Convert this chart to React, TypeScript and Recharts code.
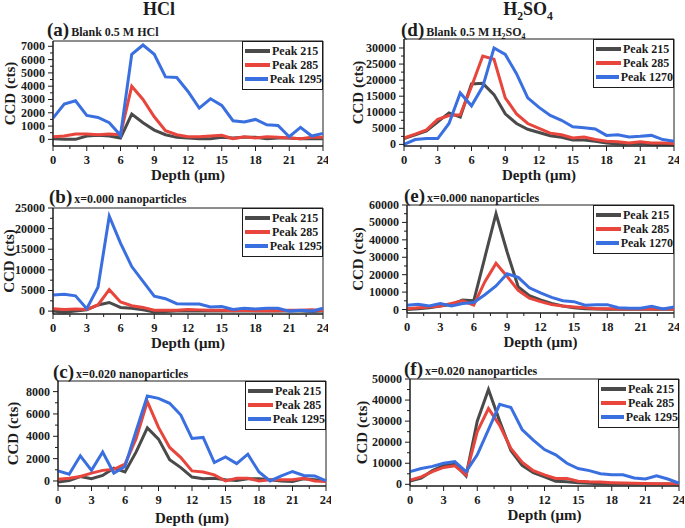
import React from 'react';
import { Legend, Line, LineChart, ReferenceArea, XAxis, YAxis } from 'recharts';

const FONT = '"Liberation Serif", "Times New Roman", serif';
const INK = '#1c1c1c';
const GREY = '#4a4a4a';
const RED = '#e8453c';
const BLUE = '#3a6fe0';

// depth in µm, one reading per micron
const depth = [0, 1, 2, 3, 4, 5, 6, 7, 8, 9, 10, 11, 12, 13, 14, 15, 16, 17, 18, 19, 20, 21, 22, 23, 24];
const depthTicks = [0, 1.5, 3, 4.5, 6, 7.5, 9, 10.5, 12, 13.5, 15, 16.5, 18, 19.5, 21, 22.5, 24];

// (a) blank 0.5 M HCl
const hclBlank215 = [50, 0, 0, 250, 300, 250, 100, 1900, 1250, 700, 350, 150, 100, 50, 50, 150, 100, 150, 150, 50, 100, 100, 50, 50, 50];
const hclBlank285 = [200, 250, 400, 400, 350, 400, 350, 4000, 3000, 1700, 650, 350, 200, 200, 250, 300, 50, 200, 100, 200, 150, 100, 50, 150, 150];
const hclBlank1295 = [1600, 2650, 2900, 1800, 1650, 1250, 300, 6400, 7100, 6400, 4700, 4650, 3600, 2350, 3050, 2550, 1400, 1300, 1500, 1100, 1050, 200, 900, 250, 450];

// (b) HCl, x=0.000
const hcl000_215 = [0, -300, 0, 300, 1500, 2100, 900, 700, 300, -200, -100, 0, 0, 0, 0, 0, 0, 0, 0, 0, 0, 0, 0, -100, 0];
const hcl000_285 = [600, 400, 500, 400, 1500, 5200, 2200, 1300, 900, 200, 200, 200, 400, 300, 200, 200, 100, 200, 100, 100, 100, 200, 200, 300, 100];
const hcl000_1295 = [3900, 4100, 3700, 600, 5800, 23000, 16500, 10800, 7200, 3600, 3000, 1800, 1700, 1700, 1000, 1100, 400, 700, 500, 700, 700, 0, 200, 0, 700];

// (c) HCl, x=0.020
const hcl020_215 = [-100, 50, 400, 200, 500, 1150, 800, 2600, 4750, 3750, 1900, 1200, 350, 200, 250, 100, 50, 200, 200, 100, 0, -50, 200, 100, 0];
const hcl020_285 = [150, 250, 400, 700, 950, 1050, 1500, 3800, 7100, 4800, 3000, 2100, 900, 800, 550, 0, 250, 250, 0, 100, 100, 100, 250, 0, -50];
const hcl020_1295 = [900, 600, 2250, 950, 2600, 700, 1300, 4500, 7600, 7400, 6950, 5900, 3800, 3900, 1650, 2150, 1550, 2400, 800, 0, 450, 850, 500, 450, 0];

// (d) blank 0.5 M H2SO4
const h2so4Blank215 = [1800, 3000, 4200, 7000, 9800, 8500, 18800, 19000, 15500, 9500, 6500, 4700, 3700, 2700, 2200, 1400, 1400, 1000, 400, 100, 100, 300, 0, 0, 0];
const h2so4Blank285 = [2000, 3200, 4500, 7800, 9000, 9200, 18000, 27500, 26500, 14500, 9500, 6500, 5000, 3500, 3000, 2000, 2300, 1500, 1000, 800, 400, 800, 400, 400, 300];
const h2so4Blank1270 = [0, 1500, 1800, 1800, 6500, 16000, 12000, 18000, 30000, 28000, 22000, 14500, 11500, 9000, 7500, 5500, 5200, 4800, 2800, 3000, 2300, 2500, 2800, 1500, 1000];

// (e) H2SO4, x=0.000
const h2so4000_215 = [0, 500, 1000, 2000, 3000, 5500, 5000, 30000, 55000, 33000, 13000, 8000, 5500, 3500, 2000, 1000, 500, 300, 200, 100, 100, 100, 100, 100, 100];
const h2so4000_285 = [500, 1000, 1500, 2000, 3500, 5000, 2500, 16000, 26500, 19000, 11000, 6500, 4500, 2800, 2000, 1500, 1000, 500, 500, 300, 300, 300, 500, 300, 300];
const h2so4000_1270 = [2500, 3000, 2000, 3500, 2000, 3500, 4000, 8500, 13500, 20500, 18500, 12500, 9500, 7000, 5000, 4500, 2500, 2800, 2800, 1000, 700, 700, 1800, 300, 1500];

// (f) H2SO4, x=0.020
const h2so4020_215 = [1500, 3000, 6500, 9000, 9500, 4000, 30000, 45000, 30000, 16000, 9000, 5500, 3500, 1500, 1200, 800, 500, 300, 200, 100, 100, 100, 100, 100, 0];
const h2so4020_285 = [2000, 3500, 6000, 8000, 8800, 4500, 25000, 36000, 28000, 17000, 10500, 6500, 4500, 2800, 2800, 1500, 1200, 1100, 800, 600, 500, 400, 300, 300, 200];
const h2so4020_1295 = [6000, 7500, 8500, 10000, 10800, 6000, 14000, 26000, 38000, 36500, 26000, 21000, 16500, 14000, 10000, 7500, 6500, 5000, 4500, 4500, 3000, 2500, 4000, 2500, 500];

// y ticks (major + minor in between)
const ticksA = [0, 500, 1000, 1500, 2000, 2500, 3000, 3500, 4000, 4500, 5000, 5500, 6000, 6500, 7000];
const ticksB = [0, 2500, 5000, 7500, 10000, 12500, 15000, 17500, 20000, 22500, 25000];
const ticksC = [0, 1000, 2000, 3000, 4000, 5000, 6000, 7000, 8000];
const ticksD = [0, 2500, 5000, 7500, 10000, 12500, 15000, 17500, 20000, 22500, 25000, 27500, 30000];
const ticksE = [0, 5000, 10000, 15000, 20000, 25000, 30000, 35000, 40000, 45000, 50000, 55000, 60000];
const ticksF = [0, 5000, 10000, 15000, 20000, 25000, 30000, 35000, 40000, 45000, 50000];

const rows = (s1: number[], s2: number[], s3: number[]) =>
  depth.map((d, i) => ({ depth: d, p215: s1[i], p285: s2[i], pHigh: s3[i] }));

const H2SO4 = () => (
  <>
    H<sub style={{ fontSize: '0.65em' }}>2</sub>SO<sub style={{ fontSize: '0.65em' }}>4</sub>
  </>
);

const XTick = (props: any) => {
  const { x, y, payload } = props;
  const major = payload.value % 3 === 0;
  return (
    <g>
      <line x1={x} x2={x} y1={y} y2={y + (major ? 5 : 3)} stroke={INK} />
      {major && (
        <text x={x} y={y + 18} textAnchor='middle' fontSize={12.5} fontWeight='bold' fontFamily={FONT} fill={INK}>
          {payload.value}
        </text>
      )}
    </g>
  );
};

const YTick = (props: any) => {
  const { x, y, payload, major } = props;
  const isMajor = payload.value % major === 0;
  return (
    <g>
      <line x1={x} x2={x - (isMajor ? 5 : 3)} y1={y} y2={y} stroke={INK} />
      {isMajor && (
        <text x={x - 8} y={y + 4} textAnchor='end' fontSize={12} fontWeight='bold' fontFamily={FONT} fill={INK}>
          {payload.value}
        </text>
      )}
    </g>
  );
};

const LegendBox = ({ payload }: any) => (
  <div style={{ border: `1px solid ${INK}`, background: '#fff', padding: '2px 0 3px 2px', fontFamily: FONT }}>
    {(payload || []).map((p: any) => (
      <div key={p.value} style={{ display: 'flex', alignItems: 'center', height: 14 }}>
        <span style={{ display: 'inline-block', width: 25, height: 4, background: p.color, marginRight: 2 }} />
        <span style={{ fontSize: 12, fontWeight: 'bold', color: INK, whiteSpace: 'nowrap' }}>{p.value}</span>
      </div>
    ))}
  </div>
);

type PanelProps = {
  letter: string;
  caption: React.ReactNode;
  capLeft: number;
  capTop: number;
  left: number;
  plotTop: number;
  plotBottom: number;
  width: number;
  yAxisWidth: number;
  xAxisHeight: number;
  yLabelOffset: number;
  yDomain: [number, number];
  yTicks: number[];
  yMajor: number;
  data: any[];
  highName: string;
};

function Panel(p: PanelProps) {
  const mTop = 10;
  const mRight = 5;
  const top = p.plotTop - mTop;
  const height = p.plotBottom + p.xAxisHeight - top;
  return (
    <>
      <div
        style={{
          position: 'absolute',
          left: p.capLeft,
          top: p.capTop,
          display: 'flex',
          alignItems: 'baseline',
          fontFamily: FONT,
          fontWeight: 'bold',
          color: INK,
          whiteSpace: 'nowrap',
        }}
      >
        <span style={{ fontSize: 19 }}>({p.letter})</span>
        <span style={{ fontSize: 12, marginLeft: 2 }}>{p.caption}</span>
      </div>
      <div style={{ position: 'absolute', left: p.left, top }}>
        <LineChart
          width={p.width}
          height={height}
          data={p.data}
          margin={{ top: mTop, right: mRight, bottom: 0, left: 0 }}
          style={{ overflow: 'visible' }}
        >
          <XAxis
            type='number'
            dataKey='depth'
            domain={[0, 24]}
            ticks={depthTicks}
            interval={0}
            height={p.xAxisHeight}
            tickSize={0}
            tickMargin={0}
            tickLine={false}
            tick={<XTick />}
            axisLine={{ stroke: INK }}
            label={{
              value: 'Depth (μm)',
              position: 'insideBottom',
              offset: 3,
              style: { fontSize: 15, fontWeight: 'bold', fontFamily: FONT, fill: INK },
            }}
          />
          <YAxis
            type='number'
            domain={p.yDomain}
            ticks={p.yTicks}
            interval={0}
            width={p.yAxisWidth}
            tickSize={0}
            tickMargin={0}
            tickLine={false}
            tick={(t: any) => <YTick {...t} major={p.yMajor} />}
            axisLine={{ stroke: INK }}
            label={{
              value: 'CCD (cts)',
              angle: -90,
              position: 'insideLeft',
              offset: p.yLabelOffset,
              style: { textAnchor: 'middle', fontSize: 15, fontWeight: 'bold', fontFamily: FONT, fill: INK },
            }}
          />
          <ReferenceArea x1={0} x2={24} y1={p.yDomain[0]} y2={p.yDomain[1]} fill='none' stroke={INK} strokeWidth={1} />
          <Line type='linear' dataKey='p215' name='Peak 215' stroke={GREY} strokeWidth={3} dot={false} isAnimationActive={false} />
          <Line type='linear' dataKey='p285' name='Peak 285' stroke={RED} strokeWidth={3} dot={false} isAnimationActive={false} />
          <Line type='linear' dataKey='pHigh' name={p.highName} stroke={BLUE} strokeWidth={3} dot={false} isAnimationActive={false} />
          <Legend
            layout='vertical'
            align='center'
            verticalAlign='middle'
            itemSorter='dataKey'
            content={<LegendBox />}
            wrapperStyle={{ left: p.width - mRight - 81, top: mTop, width: 81 }}
          />
        </LineChart>
      </div>
    </>
  );
}

export default function App() {
  return (
    <div style={{ position: 'absolute', left: 0, top: 0, width: 685, height: 528, background: '#fff', overflow: 'hidden' }}>
      <div style={{ position: 'absolute', left: 109, width: 100, top: -1, textAlign: 'center', fontFamily: FONT, fontWeight: 'bold', fontSize: 18, color: INK }}>
        HCl
      </div>
      <div style={{ position: 'absolute', left: 478, width: 100, top: -1, textAlign: 'center', fontFamily: FONT, fontWeight: 'bold', fontSize: 18, color: INK }}>
        <H2SO4 />
      </div>

      <Panel
        letter='a'
        caption='Blank 0.5 M HCl'
        capLeft={47}
        capTop={19}
        left={0}
        plotTop={41}
        plotBottom={146}
        width={328}
        yAxisWidth={53}
        xAxisHeight={37}
        yLabelOffset={10}
        yDomain={[-500, 7400]}
        yTicks={ticksA}
        yMajor={1000}
        data={rows(hclBlank215, hclBlank285, hclBlank1295)}
        highName='Peak 1295'
      />
      <Panel
        letter='b'
        caption='x=0.000 nanoparticles'
        capLeft={49}
        capTop={186}
        left={0}
        plotTop={208}
        plotBottom={314}
        width={328}
        yAxisWidth={53}
        xAxisHeight={37}
        yLabelOffset={9}
        yDomain={[-700, 25000]}
        yTicks={ticksB}
        yMajor={5000}
        data={rows(hcl000_215, hcl000_285, hcl000_1295)}
        highName='Peak 1295'
      />
      <Panel
        letter='c'
        caption='x=0.020 nanoparticles'
        capLeft={53}
        capTop={361}
        left={0}
        plotTop={381}
        plotBottom={486}
        width={331}
        yAxisWidth={58}
        xAxisHeight={40}
        yLabelOffset={13}
        yDomain={[-450, 8950]}
        yTicks={ticksC}
        yMajor={2000}
        data={rows(hcl020_215, hcl020_285, hcl020_1295)}
        highName='Peak 1295'
      />
      <Panel
        letter='d'
        caption={<>Blank 0.5 M <H2SO4 /></>}
        capLeft={401}
        capTop={19}
        left={345}
        plotTop={39}
        plotBottom={146}
        width={334}
        yAxisWidth={59}
        xAxisHeight={37}
        yLabelOffset={13}
        yDomain={[-500, 32800]}
        yTicks={ticksD}
        yMajor={5000}
        data={rows(h2so4Blank215, h2so4Blank285, h2so4Blank1270)}
        highName='Peak 1270'
      />
      <Panel
        letter='e'
        caption='x=0.000 nanoparticles'
        capLeft={404}
        capTop={185}
        left={345}
        plotTop={205}
        plotBottom={313}
        width={334}
        yAxisWidth={62}
        xAxisHeight={37}
        yLabelOffset={13}
        yDomain={[-2000, 60000]}
        yTicks={ticksE}
        yMajor={10000}
        data={rows(h2so4000_215, h2so4000_285, h2so4000_1270)}
        highName='Peak 1270'
      />
      <Panel
        letter='f'
        caption='x=0.020 nanoparticles'
        capLeft={404}
        capTop={358}
        left={345}
        plotTop={379}
        plotBottom={486}
        width={339}
        yAxisWidth={65}
        xAxisHeight={37}
        yLabelOffset={17}
        yDomain={[-800, 50000]}
        yTicks={ticksF}
        yMajor={10000}
        data={rows(h2so4020_215, h2so4020_285, h2so4020_1295)}
        highName='Peak 1295'
      />
    </div>
  );
}
